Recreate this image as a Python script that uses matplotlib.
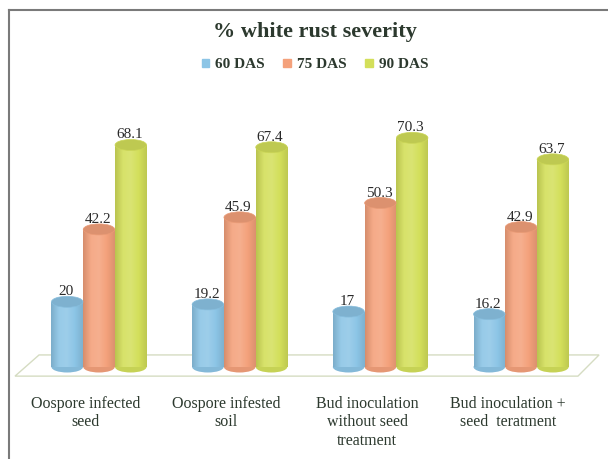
import numpy as np
import matplotlib.pyplot as plt
from matplotlib.patches import Ellipse, Polygon, Patch
from matplotlib.colors import LinearSegmentedColormap, to_rgb
from matplotlib.lines import Line2D

# data
groups = ["Oospore infected\nseed", "Oospore infested\nsoil",
          "Bud inoculation\nwithout seed\ntreatment", "Bud inoculation +\nseed  teratment"]
series = ["60 DAS", "75 DAS", "90 DAS"]
das60 = [20, 19.2, 17, 16.2]
das75 = [42.2, 45.9, 50.3, 42.9]
das90 = [68.1, 67.4, 70.3, 63.7]
colors = ["#8cc5e6", "#f4a17b", "#d3df5a"]

plt.rcParams['font.family'] = ['Liberation Serif', 'DejaVu Serif']
txt = '#2c392e'


def mix(c, t, f):
    c = np.array(to_rgb(c))
    return tuple(c + (np.array(to_rgb(t)) - c) * f)


fig = plt.figure(figsize=(6.08, 4.59), dpi=100)
ax = fig.add_axes([0, 0, 1, 1])
ax.axis('off')

px_x = 140.7  # pixels per group
px_y = 3.26   # pixels per unit
x0 = 99
zero = 367
xl = (-x0 / px_x, (608 - x0) / px_x)
yl = (-(459 - zero) / px_y, zero / px_y)

# floor
floor = Polygon([(-0.597, -2.8), (3.404, -2.8), (3.554, 3.7), (-0.426, 3.7)],
                closed=True, facecolor='white', edgecolor='#d5dcc2', lw=1.0, zorder=1)
ax.add_patch(floor)

w = 0.224
eh = 11 / px_y
grad = np.linspace(0, 1, 64).reshape(1, -1)
for k, vals in enumerate([das60, das75, das90]):
    c = colors[k]
    cmap = LinearSegmentedColormap.from_list(
        'c%d' % k, [mix(c, 'black', 0.12), mix(c, 'white', 0.1), mix(c, 'white', 0.15),
                    c, mix(c, 'black', 0.1)])
    for i, v in enumerate(vals):
        x = i + (k - 1) * 0.226
        ax.add_patch(Ellipse((x, 0), w, eh, facecolor=mix(c, 'black', 0.06),
                             edgecolor='none', zorder=2))
        rect = ax.bar(x, v, width=w, color=c, zorder=3)[0]
        im = ax.imshow(grad, extent=[x - w / 2, x + w / 2, 0, v], aspect='auto',
                       cmap=cmap, zorder=3.5, interpolation='bilinear')
        im.set_clip_path(rect)
        ax.add_patch(Ellipse((x, v), w, eh, facecolor=mix(c, 'black', 0.1),
                             edgecolor=mix(c, 'black', 0.04), lw=0.5, zorder=4))
        ax.text(x - 0.01, v + 10 / px_y, f"{v:g}", ha='center', va='center',
                fontsize=11, color='#2a2a2a', zorder=5)

for i, g in enumerate(groups):
    ax.text(i - 0.095, -(396 - zero) / px_y, g, ha='center', va='top',
            fontsize=11.5, color=txt, linespacing=1.2)

ax.set_xlim(*xl)
ax.set_ylim(*yl)

fig.text(315 / 608, 1 - 32 / 459, "% white rust severity", ha='center', va='center',
         fontsize=16, fontweight='bold', color=txt)
handles = [Patch(color=colors[k], label=series[k]) for k in range(3)]
fig.legend(handles=handles, loc='center', bbox_to_anchor=(315 / 608, 1 - 65 / 459),
           ncol=3, frameon=False, handlelength=0.5, handleheight=0.5,
           columnspacing=1.2, handletextpad=0.4,
           prop={'family': 'Liberation Serif', 'weight': 'bold', 'size': 11},
           labelcolor=txt)

# chart frame
fig.add_artist(Line2D([9 / 608, 9 / 608], [0, 1 - 10 / 459], color='#7a7a7a', lw=1.5))
fig.add_artist(Line2D([9 / 608, 1], [1 - 10 / 459, 1 - 10 / 459], color='#7a7a7a', lw=1.5))

fig.savefig('out.png', dpi=100)
